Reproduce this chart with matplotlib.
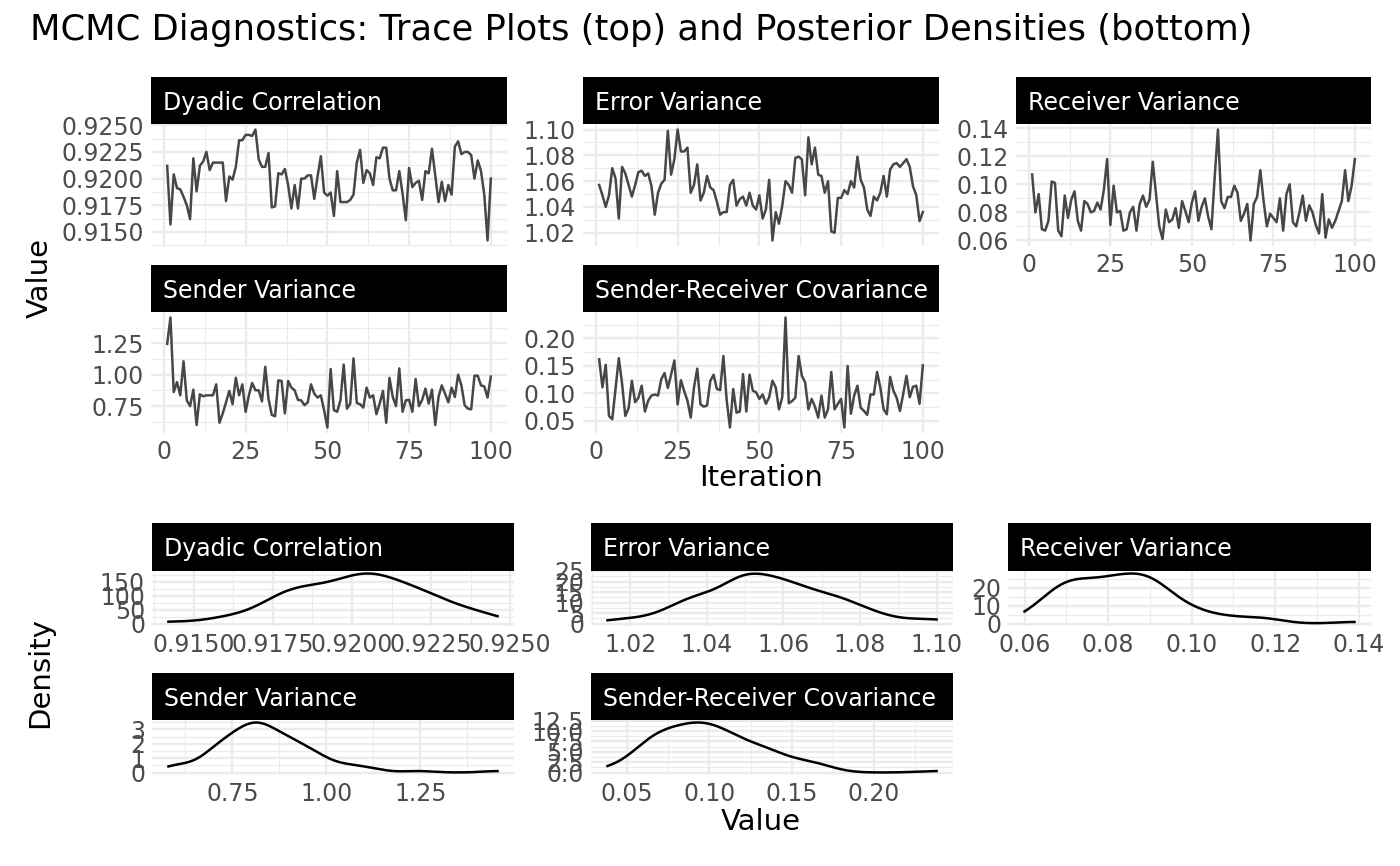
import numpy as np
import matplotlib
matplotlib.use("Agg")
import matplotlib.pyplot as plt
from matplotlib.ticker import AutoMinorLocator
import seaborn as sns

# ---- data (100 MCMC iterations per parameter) ----
params = ["Dyadic Correlation", "Error Variance", "Receiver Variance",
          "Sender Variance", "Sender-Receiver Covariance"]
iteration = np.arange(1, 101)

dyadic_correlation = [
    0.9212, 0.9157, 0.9204, 0.9191, 0.9190, 0.9183, 0.9175, 0.9162, 0.9219, 0.9188,
    0.9212, 0.9216, 0.9225, 0.9208, 0.9215, 0.9215, 0.9215, 0.9215, 0.9179, 0.9202,
    0.9199, 0.9211, 0.9236, 0.9236, 0.9241, 0.9241, 0.9240, 0.9246, 0.9218, 0.9211,
    0.9211, 0.9224, 0.9173, 0.9174, 0.9205, 0.9204, 0.9209, 0.9194, 0.9172, 0.9194,
    0.9172, 0.9200, 0.9200, 0.9203, 0.9203, 0.9181, 0.9202, 0.9221, 0.9187, 0.9184,
    0.9187, 0.9165, 0.9207, 0.9178, 0.9178, 0.9178, 0.9180, 0.9185, 0.9215, 0.9227,
    0.9196, 0.9208, 0.9205, 0.9194, 0.9220, 0.9219, 0.9229, 0.9229, 0.9200, 0.9189,
    0.9189, 0.9207, 0.9186, 0.9161, 0.9210, 0.9192, 0.9196, 0.9198, 0.9180, 0.9207,
    0.9205, 0.9228, 0.9203, 0.9178, 0.9197, 0.9179, 0.9194, 0.9185, 0.9230, 0.9235,
    0.9223, 0.9225, 0.9225, 0.9222, 0.9200, 0.9217, 0.9207, 0.9185, 0.9142, 0.9200]

error_variance = [
    1.057, 1.049, 1.040, 1.049, 1.070, 1.062, 1.031, 1.071, 1.066, 1.057,
    1.048, 1.057, 1.067, 1.068, 1.064, 1.066, 1.056, 1.034, 1.051, 1.058,
    1.061, 1.099, 1.065, 1.077, 1.100, 1.083, 1.083, 1.086, 1.051, 1.057,
    1.073, 1.045, 1.051, 1.064, 1.055, 1.053, 1.044, 1.034, 1.036, 1.036,
    1.057, 1.061, 1.041, 1.046, 1.048, 1.041, 1.051, 1.041, 1.038, 1.049,
    1.031, 1.038, 1.061, 1.014, 1.036, 1.027, 1.041, 1.060, 1.057, 1.051,
    1.078, 1.079, 1.077, 1.049, 1.094, 1.073, 1.086, 1.065, 1.064, 1.051,
    1.060, 1.021, 1.020, 1.047, 1.047, 1.053, 1.050, 1.060, 1.055, 1.079,
    1.061, 1.055, 1.038, 1.033, 1.048, 1.045, 1.051, 1.064, 1.048, 1.069,
    1.073, 1.074, 1.071, 1.074, 1.077, 1.071, 1.056, 1.049, 1.029, 1.036]

receiver_variance = [
    0.107, 0.080, 0.093, 0.068, 0.067, 0.074, 0.102, 0.101, 0.067, 0.063,
    0.092, 0.076, 0.089, 0.095, 0.074, 0.067, 0.088, 0.086, 0.080, 0.081,
    0.087, 0.082, 0.096, 0.118, 0.071, 0.099, 0.080, 0.081, 0.067, 0.068,
    0.080, 0.084, 0.067, 0.086, 0.092, 0.084, 0.089, 0.116, 0.093, 0.070,
    0.061, 0.082, 0.073, 0.075, 0.083, 0.069, 0.088, 0.081, 0.073, 0.087,
    0.095, 0.074, 0.084, 0.090, 0.077, 0.068, 0.105, 0.139, 0.088, 0.083,
    0.091, 0.091, 0.099, 0.094, 0.074, 0.079, 0.086, 0.060, 0.086, 0.091,
    0.110, 0.088, 0.070, 0.079, 0.076, 0.073, 0.090, 0.067, 0.093, 0.100,
    0.073, 0.070, 0.080, 0.092, 0.074, 0.085, 0.080, 0.071, 0.065, 0.093,
    0.062, 0.075, 0.069, 0.074, 0.081, 0.088, 0.110, 0.088, 0.099, 0.118]

sender_variance = [
    1.245, 1.455, 0.862, 0.941, 0.836, 1.107, 0.796, 0.750, 0.881, 0.600,
    0.844, 0.828, 0.836, 0.836, 0.836, 0.923, 0.618, 0.692, 0.780, 0.871,
    0.765, 0.975, 0.836, 0.923, 0.705, 0.836, 0.934, 0.876, 0.876, 0.788,
    1.063, 0.807, 0.680, 0.670, 0.955, 0.950, 0.692, 0.950, 0.897, 0.876,
    0.800, 0.796, 0.757, 0.780, 0.923, 0.849, 0.818, 0.836, 0.718, 0.580,
    1.045, 0.718, 0.705, 0.796, 1.080, 0.730, 0.770, 1.130, 0.775, 0.765,
    0.738, 0.897, 0.818, 0.836, 0.686, 0.770, 0.871, 0.618, 0.975, 0.823,
    0.750, 1.050, 0.705, 0.796, 0.800, 0.705, 0.966, 0.750, 0.800, 0.889,
    0.770, 0.881, 0.600, 0.823, 0.915, 0.849, 0.780, 0.897, 0.823, 1.000,
    0.915, 0.757, 0.730, 0.725, 0.992, 0.992, 0.915, 0.907, 0.818, 0.985]

sender_receiver_cov = [
    0.162, 0.111, 0.152, 0.059, 0.053, 0.108, 0.164, 0.118, 0.059, 0.073,
    0.123, 0.084, 0.092, 0.114, 0.067, 0.087, 0.096, 0.098, 0.096, 0.126,
    0.137, 0.110, 0.134, 0.160, 0.080, 0.124, 0.104, 0.087, 0.056, 0.111,
    0.145, 0.080, 0.076, 0.078, 0.123, 0.134, 0.108, 0.106, 0.168, 0.088,
    0.038, 0.108, 0.065, 0.067, 0.135, 0.067, 0.134, 0.105, 0.102, 0.090,
    0.098, 0.081, 0.093, 0.123, 0.111, 0.071, 0.093, 0.238, 0.082, 0.086,
    0.092, 0.168, 0.132, 0.120, 0.071, 0.090, 0.076, 0.056, 0.096, 0.056,
    0.071, 0.139, 0.071, 0.081, 0.090, 0.038, 0.150, 0.063, 0.096, 0.114,
    0.074, 0.068, 0.061, 0.098, 0.098, 0.139, 0.111, 0.071, 0.062, 0.130,
    0.105, 0.092, 0.068, 0.099, 0.132, 0.093, 0.112, 0.114, 0.081, 0.151]

# value-axis breaks (trace y axis, density x axis) and density breaks
value_breaks = [
    [0.9150, 0.9175, 0.9200, 0.9225, 0.9250],
    [1.02, 1.04, 1.06, 1.08, 1.10],
    [0.06, 0.08, 0.10, 0.12, 0.14],
    [0.75, 1.00, 1.25],
    [0.05, 0.10, 0.15, 0.20],
]
value_fmt = ["{:.4f}", "{:.2f}", "{:.2f}", "{:.2f}", "{:.2f}"]
density_breaks = [
    [0, 50, 100, 150],
    [0, 5, 10, 15, 20, 25],
    [0, 10, 20],
    [0, 1, 2, 3],
    [0.0, 2.5, 5.0, 7.5, 10.0, 12.5],
]
density_fmt = ["{:.0f}", "{:.0f}", "{:.0f}", "{:.0f}", "{:.1f}"]
iter_breaks = [0, 25, 50, 75, 100]

series = [dyadic_correlation, error_variance, receiver_variance,
          sender_variance, sender_receiver_cov]

W, H = 1400, 866
GRID = "#EBEBEB"
TXT = "#4D4D4D"
TICK_FS = 17
STRIP_FS = 17
AX_FS = 21


def box(l, t, r, b):
    return [l / W, 1 - b / H, (r - l) / W, (b - t) / H]


def style(ax):
    for s in ax.spines.values():
        s.set_visible(False)
    ax.xaxis.set_minor_locator(AutoMinorLocator(2))
    ax.yaxis.set_minor_locator(AutoMinorLocator(2))
    ax.tick_params(which="both", length=0, labelsize=TICK_FS,
                   labelcolor=TXT, pad=5)
    ax.grid(which="major", color=GRID, lw=1.7)
    ax.grid(which="minor", color=GRID, lw=0.85)
    ax.set_axisbelow(True)


def strip(fig, l, t, r, b, label):
    sax = fig.add_axes(box(l, t, r, b))
    sax.set_facecolor("black")
    sax.set_xticks([])
    sax.set_yticks([])
    for s in sax.spines.values():
        s.set_visible(False)
    sax.text(12 / (r - l), 0.45, label, color="white", fontsize=STRIP_FS,
             ha="left", va="center", transform=sax.transAxes)


fig = plt.figure(figsize=(14, 8.66), dpi=100)

# ---- trace plots ----
trace_cols = [(151, 507), (583, 939), (1016, 1371)]
trace_rows = [(77, 124, 246), (265, 312, 433)]
for i, (name, vals) in enumerate(zip(params, series)):
    r, c = divmod(i, 3)
    l, rt = trace_cols[c]
    st, pt, pb = trace_rows[r]
    ax = fig.add_axes(box(l, pt, rt, pb))
    ax.plot(iteration, vals, color="#474747", lw=1.8)
    ax.set_xlim(1 - 0.05 * 99, 100 + 0.05 * 99)
    lo, hi = min(vals), max(vals)
    ax.set_ylim(lo - 0.05 * (hi - lo), hi + 0.05 * (hi - lo))
    ax.set_xticks(iter_breaks, [str(v) for v in iter_breaks])
    ax.set_yticks(value_breaks[i], [value_fmt[i].format(v) for v in value_breaks[i]])
    style(ax)
    if r == 0 and c < 2:
        ax.tick_params(labelbottom=False)
    strip(fig, l, st, rt, pt, name)

# ---- posterior densities ----
dens_cols = [(152, 514), (591, 953), (1008, 1371)]
dens_rows = [(523, 571, 626), (673, 720, 775)]
for i, (name, vals) in enumerate(zip(params, series)):
    r, c = divmod(i, 3)
    l, rt = dens_cols[c]
    st, pt, pb = dens_rows[r]
    ax = fig.add_axes(box(l, pt, rt, pb))
    v = np.asarray(vals)
    # R's bw.nrd0 rule, expressed as a factor of the sample sd
    q75, q25 = np.percentile(v, [75, 25])
    sd = v.std(ddof=1)
    bw = 0.9 * min(sd, (q75 - q25) / 1.34) * len(v) ** -0.2
    sns.kdeplot(x=v, ax=ax, bw_method=bw / sd, cut=0, color="black", lw=1.8)
    xd, yd = ax.lines[-1].get_data()
    ax.set_xlim(v.min() - 0.05 * np.ptp(v), v.max() + 0.05 * np.ptp(v))
    ax.set_ylim(-0.05 * yd.max(), 1.05 * yd.max())
    ax.set_xticks(value_breaks[i], [value_fmt[i].format(t) for t in value_breaks[i]])
    ax.set_yticks(density_breaks[i], [density_fmt[i].format(t) for t in density_breaks[i]])
    ax.set_xlabel("")
    ax.set_ylabel("")
    style(ax)
    strip(fig, l, st, rt, pt, name)

fig.text(30 / W, 1 - 30 / H,
         "MCMC Diagnostics: Trace Plots (top) and Posterior Densities (bottom)",
         fontsize=25.4, ha="left", va="center")
fig.text(40 / W, 1 - 278 / H, "Value", rotation=90, fontsize=AX_FS,
         ha="center", va="center")
fig.text(761 / W, 1 - 478 / H, "Iteration", fontsize=AX_FS,
         ha="center", va="center")
fig.text(40 / W, 1 - 673 / H, "Density", rotation=90, fontsize=AX_FS,
         ha="center", va="center")
fig.text(761 / W, 1 - 822 / H, "Value", fontsize=AX_FS,
         ha="center", va="center")

fig.savefig("out.png", dpi=100, facecolor="white")
